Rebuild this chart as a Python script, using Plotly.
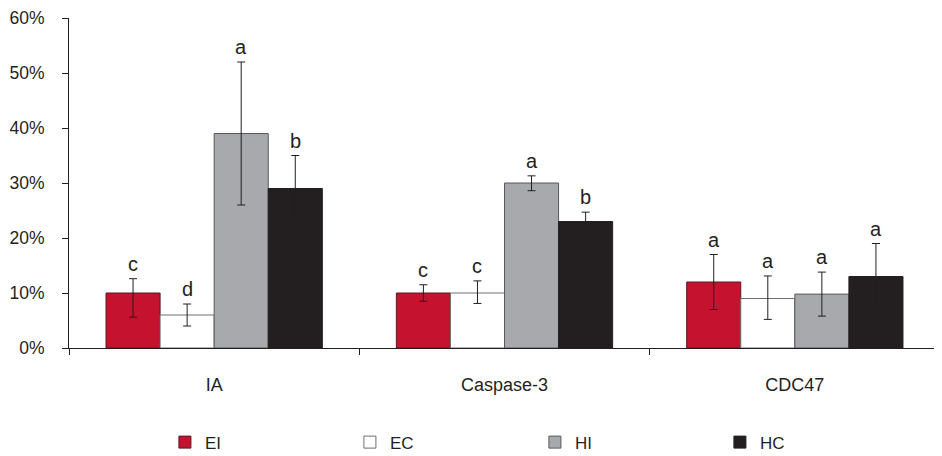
import plotly.graph_objects as go

categories = ["IA", "Caspase-3", "CDC47"]
series_names = ["EI", "EC", "HI", "HC"]
values = {
    "EI": [10, 10, 12],
    "EC": [6, 10, 9],
    "HI": [39, 30, 9.8],
    "HC": [29, 23, 13],
}
err_plus = {
    "EI": [2.6, 1.5, 5],
    "EC": [2, 2.2, 4.1],
    "HI": [13, 1.3, 4],
    "HC": [6, 1.7, 6],
}
err_minus = {
    "EI": [4.4, 1.5, 5],
    "EC": [2, 1.9, 3.8],
    "HI": [13, 1.4, 4],
    "HC": [6, 1.7, 6],
}
letters = {
    "EI": ["c", "c", "a"],
    "EC": ["d", "c", "a"],
    "HI": ["a", "a", "a"],
    "HC": ["b", "b", "a"],
}
fills = {"EI": "#c4122f", "EC": "#ffffff", "HI": "#a7a9ac", "HC": "#231f20"}
outlines = {"EI": "#5a1a20", "EC": "#6d6e71", "HI": "#58595b", "HC": "#231f20"}

fig = go.Figure()
for s in series_names:
    fig.add_trace(go.Bar(
        name=s, x=categories, y=values[s],
        marker=dict(color=fills[s], line=dict(color=outlines[s], width=1)),
        error_y=dict(type="data", symmetric=False, array=err_plus[s],
                     arrayminus=err_minus[s], color="#231f20", thickness=1, width=4),
    ))

n = len(series_names)
group_frac = 1 - 0.255
bw = group_frac / n
for i, s in enumerate(series_names):
    off = -group_frac / 2 + bw * (i + 0.5)
    for j, c in enumerate(categories):
        fig.add_annotation(
            x=j + off, y=values[s][j] + err_plus[s][j], xref="x", yref="y",
            text=letters[s][j], showarrow=False, yanchor="bottom", yshift=2,
            font=dict(size=20, color="#231f20", family="Liberation Sans, Arial"),
        )

# page body has an 8px default margin, so the figure is sized/offset to compensate
fig.update_layout(
    width=934, height=448,
    margin=dict(l=61, r=2, t=10, b=108, autoexpand=False),
    paper_bgcolor="white", plot_bgcolor="white",
    barmode="group", bargap=0.255, bargroupgap=0,
    font=dict(family="Liberation Sans, Arial", color="#231f20", size=18),
    showlegend=True,
    legend=dict(orientation="h", xref="container", yref="container",
                x=0.168, xanchor="left", y=0.03, yanchor="middle",
                font=dict(size=17, color="#231f20"), entrywidth=140, entrywidthmode="pixels",
                itemwidth=30, traceorder="normal"),
)
fig.update_xaxes(
    type="category", showline=True, linecolor="#231f20", linewidth=1,
    ticks="outside", tickson="boundaries", ticklen=6, tickcolor="#231f20",
    ticklabelstandoff=20, showgrid=False, tickfont=dict(size=18),
    range=[-0.5, 2.5], automargin=False,
)
fig.update_yaxes(
    range=[0, 60], dtick=10, ticksuffix="%", showline=True, linecolor="#231f20",
    linewidth=1, ticks="outside", ticklen=6, tickcolor="#231f20",
    showgrid=False, zeroline=False, tickfont=dict(size=17.5), ticklabelstandoff=14,
    automargin=False,
)

fig.write_html("out.html")
